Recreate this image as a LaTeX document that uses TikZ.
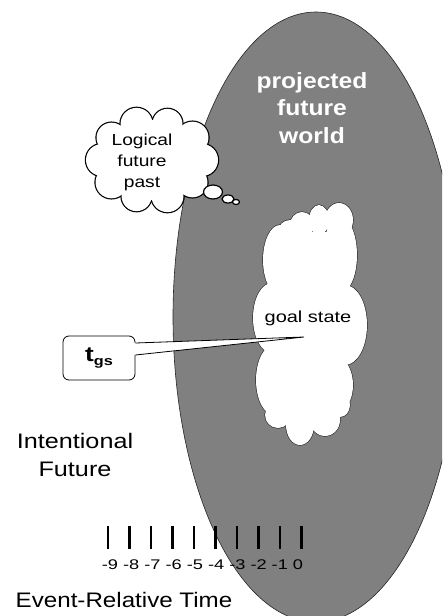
\documentclass[tikz,border=0pt]{standalone}
\usepackage{fontspec}
\setmainfont{Liberation Sans}
\usetikzlibrary{shapes.geometric,calc}
\definecolor{worldgray}{HTML}{808080}
\begin{document}
\begin{tikzpicture}[x=1pt,y=-1pt,
  lbl/.style={inner sep=0pt, align=center},
  puff/.style={ellipse, draw, line width=1.2pt, fill=white, inner sep=0pt},
  tickmark/.style={line width=2.6pt}]
\useasboundingbox (0,0) rectangle (442,616);
\clip (0,0) rectangle (442,616);

% the projected future world
\node[ellipse, draw=black!85, line width=0.6pt, fill=worldgray,
      minimum width=286pt, minimum height=610pt, inner sep=0pt] (world) at (316,317) {};
\node[lbl, text=white, xscale=1.12, font=\fontsize{22}{27.5}\selectfont\bfseries]
      (worldtext) at (312,108) {projected\\future\\world};

% thought cloud: union of puffs around an inner ellipse
\coordinate (thought) at (152,160);
\foreach \a/\r in {0/16,36/15,72/16,108/15,144/16,180/16,216/15,252/16,288/15,324/16}
  \draw[line width=2.4pt] ($(thought)+({50*cos(\a)},{38*sin(\a)})$) circle [radius=\r];
\fill[white] (thought) ellipse [x radius=55, y radius=40];
\foreach \a/\r in {0/16,36/15,72/16,108/15,144/16,180/16,216/15,252/16,288/15,324/16}
  \fill[white] ($(thought)+({50*cos(\a)},{38*sin(\a)})$) circle [radius=\r];
\node[lbl, xscale=1.2, font=\fontsize{16}{21}\selectfont]
      (thoughttext) at (142,162) {Logical\\future\\past};
\node[puff, minimum width=19pt, minimum height=14pt] (b1) at (213,192) {};
\node[puff, minimum width=12pt, minimum height=8pt] (b2) at (228,199) {};
\node[puff, minimum width=7pt, minimum height=5pt] (b3) at (236,202) {};

% goal state cloud: a core with lobes along its rim
\coordinate (goal) at (310,324);
\def\goallobes{280/260/17/35, 272/318/19/35, 274/380/18/35,
  340/255/17/38, 345/325/22/40, 336/385/17/28,
  290/232/12/12, 302/225/12/13, 319/220/10/15, 339/220/14/17,
  278/415/13/13, 300/425/14/20, 325/420/15/16, 340/405/10/12}
\foreach \x/\y/\rx/\ry in \goallobes
  \draw[line width=1.2pt, black!85] (\x,\y) ellipse [x radius=\rx, y radius=\ry];
\fill[white] (280,232) rectangle (340,420);
\foreach \x/\y/\rx/\ry in \goallobes
  \fill[white] (\x,\y) ellipse [x radius=\rx, y radius=\ry];
\node[lbl, xscale=1.25, font=\fontsize{16}{20}\selectfont]
      (goaltext) at (308,318) {goal state};

% callout naming the goal-state time
\coordinate (tip) at (304,337);
\node[draw, line width=0.8pt, fill=white, rounded corners=6pt,
      minimum width=72pt, minimum height=44pt] (tgs) at (99,358) {};
\path[fill=white] ($(tgs.east)+(-1.5,-15)$) -- (tip) -- ($(tgs.east)+(-1.5,-3)$) -- cycle;
\draw[line width=0.8pt] ($(tgs.east)+(0,-15)$) -- (tip) -- ($(tgs.east)+(0,-3)$);
\node[lbl, xscale=1.25, font=\fontsize{21}{21}\selectfont\bfseries]
      (tgstext) at (tgs) {t\raisebox{-0.3ex}{\fontsize{13}{13}\selectfont\bfseries gs}};

% side labels
\node[lbl, xscale=1.2, font=\fontsize{21}{28}\selectfont]
      (intent) at (75,455) {Intentional\\Future};
\node[lbl, xscale=1.15, font=\fontsize{21}{21}\selectfont]
      (axisname) at (124,600) {Event-Relative Time};

% time axis ticks
\foreach \i in {0,...,9}{
  \coordinate (t\i top) at (108+21.5*\i,526);
  \coordinate (t\i bot) at (108+21.5*\i,549);
  \draw[tickmark] (t\i top) -- (t\i bot);
}
\node[lbl, xscale=1.3, font=\fontsize{14}{14}\selectfont]
      (ticklabels) at (202.5,565) {-9 -8 -7 -6 -5 -4 -3 -2 -1 0};
\end{tikzpicture}
\end{document}
